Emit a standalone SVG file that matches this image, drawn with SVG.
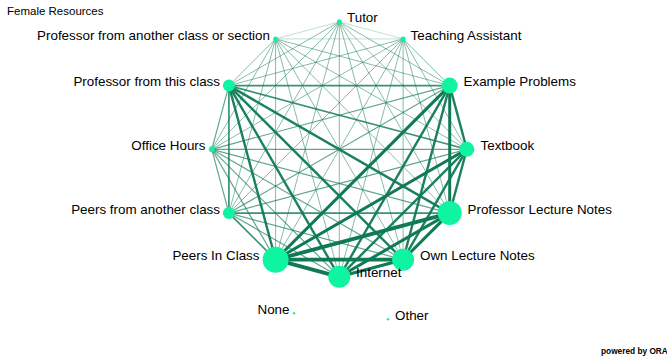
<svg xmlns="http://www.w3.org/2000/svg" width="667" height="358" viewBox="0 0 667 358">
<style>
text{font-family:"Liberation Sans",Arial,sans-serif;font-size:13.4px;fill:#000}
.title{font-size:11.5px}
.ora{font-size:8.3px;font-weight:bold}
.e line{stroke:#0f7a53;fill:none}
.e0{stroke-width:1;opacity:.25}
.e1{stroke-width:1;opacity:.5}
.e2{stroke-width:1.2;opacity:.66}
.e3{stroke-width:1.7;opacity:.82}
.e4{stroke-width:2.4;opacity:.95}
.e5{stroke-width:3}
.e6{stroke-width:3.8}
.n{fill:#0ff4a0}
.r{text-anchor:end}
</style>
<rect width="667" height="358" fill="#fff"/>
<text class="title" x="7" y="15">Female Resources</text>
<g class="e" id="connectors">
<line class="e0" x1="339.3" y1="21.8" x2="403.1" y2="38.9"/>
<line class="e0" x1="339.3" y1="21.8" x2="275.6" y2="38.9"/>
<line class="e0" x1="403.1" y1="38.9" x2="275.6" y2="38.9"/>
<line class="e1" x1="339.3" y1="21.8" x2="449.7" y2="85.6"/>
<line class="e1" x1="339.3" y1="21.8" x2="466.8" y2="149.3"/>
<line class="e1" x1="339.3" y1="21.8" x2="449.7" y2="213.1"/>
<line class="e1" x1="339.3" y1="21.8" x2="403.1" y2="259.7"/>
<line class="e1" x1="339.3" y1="21.8" x2="339.3" y2="276.8"/>
<line class="e1" x1="339.3" y1="21.8" x2="275.6" y2="259.7"/>
<line class="e1" x1="339.3" y1="21.8" x2="228.9" y2="213.1"/>
<line class="e1" x1="339.3" y1="21.8" x2="211.8" y2="149.3"/>
<line class="e1" x1="339.3" y1="21.8" x2="228.9" y2="85.6"/>
<line class="e1" x1="403.1" y1="38.9" x2="449.7" y2="85.6"/>
<line class="e1" x1="403.1" y1="38.9" x2="466.8" y2="149.3"/>
<line class="e1" x1="403.1" y1="38.9" x2="449.7" y2="213.1"/>
<line class="e1" x1="403.1" y1="38.9" x2="403.1" y2="259.7"/>
<line class="e1" x1="403.1" y1="38.9" x2="339.3" y2="276.8"/>
<line class="e1" x1="403.1" y1="38.9" x2="275.6" y2="259.7"/>
<line class="e1" x1="403.1" y1="38.9" x2="228.9" y2="213.1"/>
<line class="e1" x1="403.1" y1="38.9" x2="211.8" y2="149.3"/>
<line class="e1" x1="403.1" y1="38.9" x2="228.9" y2="85.6"/>
<line class="e1" x1="275.6" y1="38.9" x2="449.7" y2="85.6"/>
<line class="e1" x1="275.6" y1="38.9" x2="466.8" y2="149.3"/>
<line class="e1" x1="275.6" y1="38.9" x2="449.7" y2="213.1"/>
<line class="e1" x1="275.6" y1="38.9" x2="403.1" y2="259.7"/>
<line class="e1" x1="275.6" y1="38.9" x2="339.3" y2="276.8"/>
<line class="e1" x1="275.6" y1="38.9" x2="275.6" y2="259.7"/>
<line class="e1" x1="275.6" y1="38.9" x2="228.9" y2="213.1"/>
<line class="e1" x1="275.6" y1="38.9" x2="211.8" y2="149.3"/>
<line class="e1" x1="275.6" y1="38.9" x2="228.9" y2="85.6"/>
<line class="e2" x1="211.8" y1="149.3" x2="228.9" y2="213.1"/>
<line class="e2" x1="211.8" y1="149.3" x2="228.9" y2="85.6"/>
<line class="e2" x1="211.8" y1="149.3" x2="449.7" y2="85.6"/>
<line class="e2" x1="211.8" y1="149.3" x2="466.8" y2="149.3"/>
<line class="e2" x1="211.8" y1="149.3" x2="449.7" y2="213.1"/>
<line class="e2" x1="211.8" y1="149.3" x2="403.1" y2="259.7"/>
<line class="e2" x1="211.8" y1="149.3" x2="339.3" y2="276.8"/>
<line class="e2" x1="211.8" y1="149.3" x2="275.6" y2="259.7"/>
<line class="e3" x1="228.9" y1="213.1" x2="228.9" y2="85.6"/>
<line class="e2" x1="228.9" y1="213.1" x2="449.7" y2="85.6"/>
<line class="e2" x1="228.9" y1="213.1" x2="466.8" y2="149.3"/>
<line class="e3" x1="228.9" y1="213.1" x2="449.7" y2="213.1"/>
<line class="e2" x1="228.9" y1="213.1" x2="403.1" y2="259.7"/>
<line class="e2" x1="228.9" y1="213.1" x2="339.3" y2="276.8"/>
<line class="e3" x1="228.9" y1="213.1" x2="275.6" y2="259.7"/>
<line class="e3" x1="228.9" y1="85.6" x2="449.7" y2="85.6"/>
<line class="e3" x1="228.9" y1="85.6" x2="466.8" y2="149.3"/>
<line class="e4" x1="228.9" y1="85.6" x2="449.7" y2="213.1"/>
<line class="e4" x1="228.9" y1="85.6" x2="403.1" y2="259.7"/>
<line class="e4" x1="228.9" y1="85.6" x2="339.3" y2="276.8"/>
<line class="e4" x1="228.9" y1="85.6" x2="275.6" y2="259.7"/>
<line class="e4" x1="449.7" y1="85.6" x2="466.8" y2="149.3"/>
<line class="e5" x1="449.7" y1="85.6" x2="449.7" y2="213.1"/>
<line class="e4" x1="449.7" y1="85.6" x2="403.1" y2="259.7"/>
<line class="e4" x1="449.7" y1="85.6" x2="339.3" y2="276.8"/>
<line class="e5" x1="449.7" y1="85.6" x2="275.6" y2="259.7"/>
<line class="e4" x1="466.8" y1="149.3" x2="449.7" y2="213.1"/>
<line class="e4" x1="466.8" y1="149.3" x2="403.1" y2="259.7"/>
<line class="e4" x1="466.8" y1="149.3" x2="339.3" y2="276.8"/>
<line class="e5" x1="466.8" y1="149.3" x2="275.6" y2="259.7"/>
<line class="e5" x1="449.7" y1="213.1" x2="403.1" y2="259.7"/>
<line class="e5" x1="449.7" y1="213.1" x2="339.3" y2="276.8"/>
<line class="e6" x1="449.7" y1="213.1" x2="275.6" y2="259.7"/>
<line class="e5" x1="403.1" y1="259.7" x2="339.3" y2="276.8"/>
<line class="e6" x1="403.1" y1="259.7" x2="275.6" y2="259.7"/>
<line class="e6" x1="339.3" y1="276.8" x2="275.6" y2="259.7"/>
</g>
<g id="tutor"><circle class="n" cx="339.3" cy="21.8" r="2.5"/><text x="347" y="22">Tutor</text></g>
<g id="teaching-assistant"><circle class="n" cx="403.1" cy="38.9" r="2.5"/><text x="410.5" y="40">Teaching Assistant</text></g>
<g id="example-problems"><circle class="n" cx="449.7" cy="85.6" r="8"/><text x="463.5" y="86">Example Problems</text></g>
<g id="textbook"><circle class="n" cx="466.8" cy="149.3" r="7.5"/><text x="480.5" y="149.5">Textbook</text></g>
<g id="professor-lecture-notes"><circle class="n" cx="449.7" cy="213.1" r="12"/><text x="467.5" y="213.5">Professor Lecture Notes</text></g>
<g id="own-lecture-notes"><circle class="n" cx="403.1" cy="259.7" r="11"/><text x="420" y="260">Own Lecture Notes</text></g>
<g id="internet"><circle class="n" cx="339.3" cy="276.8" r="11"/><text x="356" y="277">Internet</text></g>
<g id="peers-in-class"><circle class="n" cx="275.6" cy="259.7" r="13"/><text class="r" x="259.5" y="260">Peers In Class</text></g>
<g id="peers-from-another-class"><circle class="n" cx="228.9" cy="213.1" r="6"/><text class="r" x="220" y="213.5">Peers from another class</text></g>
<g id="office-hours"><circle class="n" cx="211.8" cy="149.3" r="3"/><text class="r" x="205.5" y="149.5">Office Hours</text></g>
<g id="professor-from-this-class"><circle class="n" cx="228.9" cy="85.6" r="6"/><text class="r" x="220" y="86">Professor from this class</text></g>
<g id="professor-from-another-class"><circle class="n" cx="275.6" cy="38.9" r="2.5"/><text class="r" x="270" y="40">Professor from another class or section</text></g>
<g id="none"><circle class="n" cx="294" cy="313.3" r="1.2"/><text class="r" x="289.5" y="313.5">None</text></g>
<g id="other"><circle class="n" cx="388" cy="319.3" r="1.2"/><text x="395" y="319.5">Other</text></g>
<text class="ora" x="601" y="354">powered by ORA</text>
</svg>
